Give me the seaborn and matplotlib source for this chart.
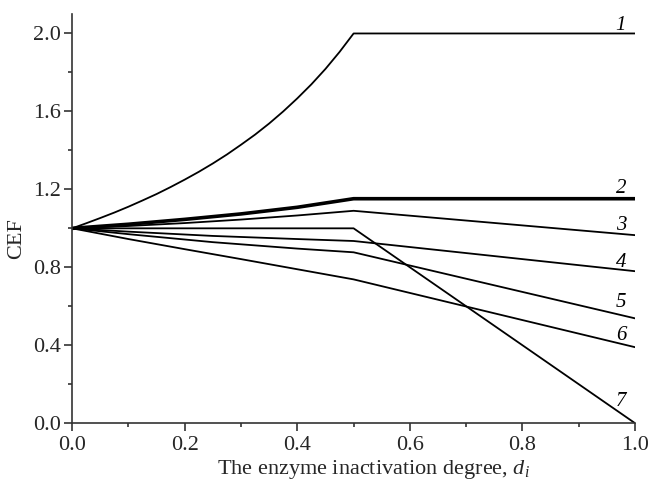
import matplotlib
matplotlib.use("Agg")
import matplotlib.pyplot as plt
import seaborn as sns
import pandas as pd
from matplotlib.ticker import MultipleLocator, FormatStrFormatter

# Data
x1 = [0.0, 0.025, 0.05, 0.075, 0.1, 0.125, 0.15, 0.175, 0.2, 0.225, 0.25,
      0.275, 0.3, 0.325, 0.35, 0.375, 0.4, 0.425, 0.45, 0.475, 0.5, 1.0]
y1 = [1.0, 1.026, 1.053, 1.081, 1.111, 1.143, 1.176, 1.212, 1.25, 1.29, 1.333,
      1.379, 1.429, 1.481, 1.538, 1.6, 1.667, 1.739, 1.818, 1.905, 2.0, 2.0]
x2 = [0.0, 0.1, 0.2, 0.3, 0.4, 0.5, 1.0]
y2 = [1.0, 1.021, 1.046, 1.074, 1.108, 1.152, 1.152]
x3 = [0.0, 0.1, 0.2, 0.3, 0.4, 0.5, 1.0]
y3 = [1.0, 1.012, 1.027, 1.045, 1.066, 1.09, 0.965]
x4 = [0.0, 0.1, 0.25, 0.4, 0.5, 1.0]
y4 = [1.0, 0.983, 0.961, 0.945, 0.935, 0.78]
x5 = [0.0, 0.1, 0.25, 0.4, 0.5, 1.0]
y5 = [1.0, 0.97, 0.929, 0.896, 0.877, 0.538]
x6 = [0.0, 0.1, 0.2, 0.3, 0.4, 0.5, 1.0]
y6 = [1.0, 0.945, 0.893, 0.842, 0.79, 0.738, 0.39]
x7 = [0.0, 0.5, 1.0]
y7 = [1.0, 1.0, 0.0]
labels = ["1", "2", "3", "4", "5", "6", "7"]
label_x = [0.975, 0.975, 0.975, 0.975, 0.975, 0.975, 0.975]
label_y = [2.04, 1.205, 1.017, 0.826, 0.618, 0.448, 0.111]

sns.set_style("ticks")
plt.rcParams["font.family"] = ["Liberation Serif", "DejaVu Serif"]
plt.rcParams["mathtext.fontset"] = "custom"
plt.rcParams["mathtext.rm"] = "Liberation Serif"
plt.rcParams["mathtext.it"] = "Liberation Serif:italic"

fig = plt.figure(figsize=(6.5, 4.82), dpi=100)
ax = fig.add_axes([0.111, 0.122, 0.866, 0.849])

series = [(x1, y1, 1.3), (x2, y2, 2.6), (x3, y3, 1.3), (x4, y4, 1.3),
          (x5, y5, 1.3), (x6, y6, 1.3), (x7, y7, 1.3)]
for xs, ys, lw in series:
    df = pd.DataFrame({"x": xs, "y": ys})
    sns.lineplot(data=df, x="x", y="y", ax=ax, color="black", linewidth=lw,
                 estimator=None, sort=False)

for lab, lx, ly in zip(labels, label_x, label_y):
    ax.text(lx, ly, lab, fontsize=15, style="italic", ha="center", va="center",
            color="black")

ax.set_xlim(0, 1.0)
ax.set_ylim(0, 2.1)
ax.xaxis.set_major_locator(MultipleLocator(0.2))
ax.xaxis.set_minor_locator(MultipleLocator(0.1))
ax.yaxis.set_major_locator(MultipleLocator(0.4))
ax.yaxis.set_minor_locator(MultipleLocator(0.2))
ax.xaxis.set_major_formatter(FormatStrFormatter("%.1f"))
ax.yaxis.set_major_formatter(FormatStrFormatter("%.1f"))
ax.tick_params(axis="both", which="major", direction="out", length=5.5, width=1.2,
               labelsize=16, color="#333333")
ax.tick_params(axis="x", which="major", pad=4)
ax.tick_params(axis="y", which="major", pad=2.5)
ax.tick_params(axis="both", which="minor", direction="out", length=3, width=1.2,
               color="#333333")
for s in ["top", "right"]:
    ax.spines[s].set_visible(False)
for s in ["left", "bottom"]:
    ax.spines[s].set_linewidth(1.2)
    ax.spines[s].set_color("#333333")

ax.set_xlabel("The enzyme inactivation degree, $d_i$", fontsize=16)
ax.set_ylabel("CEF", fontsize=16)
ax.xaxis.set_label_coords(0.535, -0.085)
ax.yaxis.set_label_coords(-0.082, 0.45)

fig.savefig("out.png", dpi=100)
